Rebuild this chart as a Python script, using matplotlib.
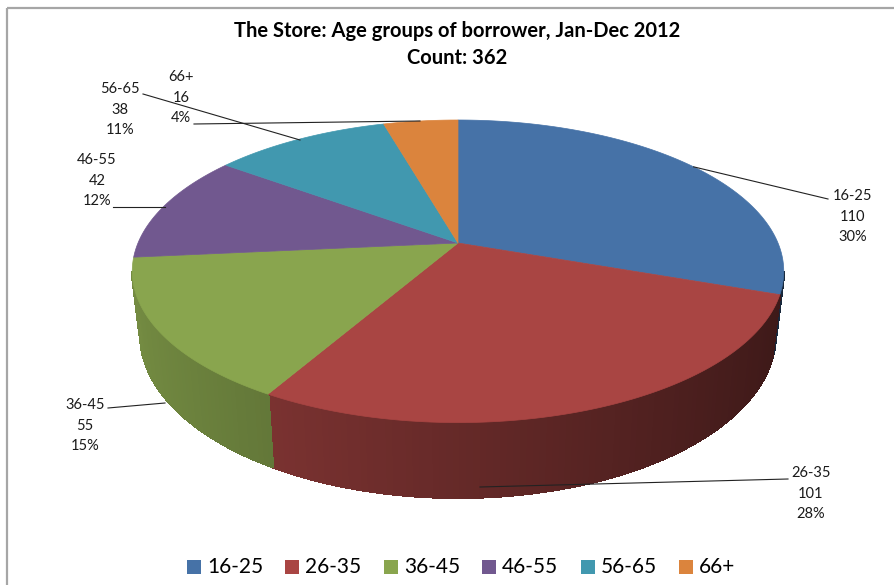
import numpy as np
import matplotlib
matplotlib.use("Agg")
import matplotlib.pyplot as plt
from matplotlib.patches import Polygon, Rectangle
from matplotlib.colors import to_rgb

# ---- data -------------------------------------------------------------
age_groups = ["16-25", "26-35", "36-45", "46-55", "56-65", "66+"]
borrowers = [110, 101, 55, 42, 38, 16]
pct_labels = ["30%", "28%", "15%", "12%", "11%", "4%"]
title_lines = ["The Store: Age groups of borrower, Jan-Dec 2012", "Count: 362"]

# ---- styling ----------------------------------------------------------
slice_colors = ["#4672A7", "#A94543", "#89A54E", "#71588F", "#4198AF", "#DB843D"]
FONT = "Lato"

# pie geometry in pixel space (perspective-projected disc)
CX, CY = 458, 243      # projected centre of the top face
RX, RY = 320, 146      # horizontal / depth radius
K = 0.187              # perspective strength (far side shrinks)
DEPTH = 61             # thickness of the pie
TAPER = 0.025          # vertical edges converge slightly downward

W, H = 895, 585
fig = plt.figure(figsize=(W / 100, H / 100), dpi=100)
ax = fig.add_axes([0, 0, 1, 1])
ax.set_xlim(0, W)
ax.set_ylim(H, 0)
ax.axis("off")


def proj(theta_deg, z=0.0):
    t = np.radians(theta_deg)
    u, v = np.cos(t), np.sin(t)
    d = 1 + K * v
    s = 1 - TAPER * z
    return CX + RX * u * s / d, CY - RY * v / d + z * DEPTH / d


def shade(rgb, f):
    return tuple(max(0.0, min(1.0, c * f)) for c in rgb)


total = float(sum(borrowers))
cum = np.concatenate([[0], np.cumsum(borrowers)])
starts = 90 - 360 * cum[:-1] / total
ends = 90 - 360 * cum[1:] / total

# visible part of the outer wall lies between the two silhouette angles
sil = np.degrees(np.arcsin(K))
wall_hi, wall_lo = -sil, -180 + sil

for a0, a1, col in zip(starts, ends, slice_colors):
    rgb = to_rgb(col)
    for off in (0, -360):
        hi = min(a0 + off, wall_hi)
        lo = max(a1 + off, wall_lo)
        if lo >= hi:
            continue
        n = max(2, int(np.ceil(hi - lo)))
        angs = np.linspace(hi, lo, n + 1)
        for t0, t1 in zip(angs[:-1], angs[1:]):
            tm = np.radians(0.5 * (t0 + t1))
            f = 0.6 - 0.25 * np.cos(tm)
            c = shade(rgb, f)
            pts = [proj(t0), proj(t1), proj(t1, 1), proj(t0, 1)]
            ax.add_patch(Polygon(pts, closed=True, facecolor=c, edgecolor=c,
                                 linewidth=1.3, antialiased=False, zorder=2))

# top faces
for a0, a1, col in zip(starts, ends, slice_colors):
    n = max(4, int(abs(a0 - a1) * 2))
    angs = np.linspace(a0, a1, n)
    pts = [(CX, CY)] + [proj(a) for a in angs]
    ax.add_patch(Polygon(pts, closed=True, facecolor=col, edgecolor=col,
                         linewidth=0.5, zorder=3))

# data labels: text centre x, first line y, leader line (from, to)
label_layout = [
    (853, 196, [(828, 199), proj(90 - 360 * (cum[0] + borrowers[0] / 2) / total)]),
    (811, 473, [(788, 479), (480, 487)]),
    (85, 405, [(108, 408), (165, 403)]),
    (97, 160, [(113, 207), (165, 207)]),
    (120, 89, [(143, 94), (300, 140)]),
    (181, 77, [(194, 124), (420, 121)]),
]
LINE_GAP = 20.7
for name, val, pct, (tx, ty, leader) in zip(age_groups, borrowers, pct_labels, label_layout):
    for i, s in enumerate([name, str(val), pct]):
        ax.text(tx, ty + i * LINE_GAP, s, ha="center", va="center",
                fontsize=10.5, family=FONT, color="#1a1a1a", zorder=6)
    (x0, y0), (x1, y1) = leader
    ax.plot([x0, x1], [y0, y1], color="#222222", lw=0.8, zorder=5)

# title
ax.text(457, 31, title_lines[0], ha="center", va="center", fontsize=14.5,
        fontweight="bold", family=FONT, color="black")
ax.text(457, 58, title_lines[1], ha="center", va="center", fontsize=14.5,
        fontweight="bold", family=FONT, color="black")

# legend
leg_x0, leg_step, leg_y = 187, 98.4, 567
for i, (name, col) in enumerate(zip(age_groups, slice_colors)):
    x = leg_x0 + i * leg_step
    ax.add_patch(Rectangle((x, leg_y - 7), 14, 14, facecolor=col, edgecolor="none"))
    ax.text(x + 20, leg_y, name, ha="left", va="center", fontsize=15,
            family=FONT, color="black")

# chart frame (left and top edges)
ax.plot([7, 7], [8, H], color="#a6a6a6", lw=1.6, solid_capstyle="butt")
ax.plot([7, W], [8, 8], color="#a6a6a6", lw=1.6, solid_capstyle="butt")

fig.savefig("out.png", dpi=100)
